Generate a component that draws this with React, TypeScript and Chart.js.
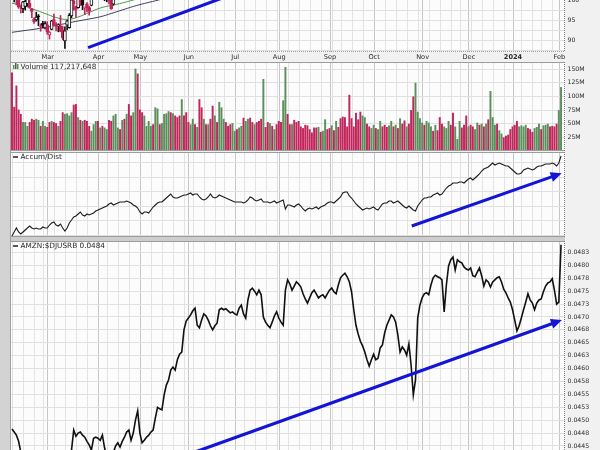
import React, { useEffect, useRef } from "react";
import { Chart, registerables } from "chart.js";

Chart.register(...registerables);

// ---------- trading calendar (Feb 6 2023 .. Feb 2 2024) ----------
const TRADING_MONTHS: [number, number, string, number[]][] = [
  [2023, 2, "", [6, 7, 8, 9, 10, 13, 14, 15, 16, 17, 21, 22, 23, 24, 27, 28]],
  [2023, 3, "Mar", [1, 2, 3, 6, 7, 8, 9, 10, 13, 14, 15, 16, 17, 20, 21, 22, 23, 24, 27, 28, 29, 30, 31]],
  [2023, 4, "Apr", [3, 4, 5, 6, 10, 11, 12, 13, 14, 17, 18, 19, 20, 21, 24, 25, 26, 27, 28]],
  [2023, 5, "May", [1, 2, 3, 4, 5, 8, 9, 10, 11, 12, 15, 16, 17, 18, 19, 22, 23, 24, 25, 26, 30, 31]],
  [2023, 6, "Jun", [1, 2, 5, 6, 7, 8, 9, 12, 13, 14, 15, 16, 20, 21, 22, 23, 26, 27, 28, 29, 30]],
  [2023, 7, "Jul", [3, 5, 6, 7, 10, 11, 12, 13, 14, 17, 18, 19, 20, 21, 24, 25, 26, 27, 28, 31]],
  [2023, 8, "Aug", [1, 2, 3, 4, 7, 8, 9, 10, 11, 14, 15, 16, 17, 18, 21, 22, 23, 24, 25, 28, 29, 30, 31]],
  [2023, 9, "Sep", [1, 5, 6, 7, 8, 11, 12, 13, 14, 15, 18, 19, 20, 21, 22, 25, 26, 27, 28, 29]],
  [2023, 10, "Oct", [2, 3, 4, 5, 6, 9, 10, 11, 12, 13, 16, 17, 18, 19, 20, 23, 24, 25, 26, 27, 30, 31]],
  [2023, 11, "Nov", [1, 2, 3, 6, 7, 8, 9, 10, 13, 14, 15, 16, 17, 20, 21, 22, 24, 27, 28, 29, 30]],
  [2023, 12, "Dec", [1, 4, 5, 6, 7, 8, 11, 12, 13, 14, 15, 18, 19, 20, 21, 22, 26, 27, 28, 29]],
  [2024, 1, "2024", [2, 3, 4, 5, 8, 9, 10, 11, 12, 16, 17, 18, 19, 22, 23, 24, 25, 26, 29, 30, 31]],
  [2024, 2, "Feb", [1, 2]],
];

// ---------- price (visible part only) ----------
const PRICE_OPEN = [102.8, 101.2, 102.0, 101.3, 97.56, 97.85, 98.41, 99.09, 99.21, 97.8, 95.34, 95.1, 96.12, 93.53, 94.28, 93.14, 93.87, 91.41, 92.74, 95.19, 93.87, 93.6, 93.68, 92.67, 89.97, 93.83, 93.22, 96.06, 99.79, 98.41, 98.14, 100.45, 100.43, 98.07, 99.07, 98.11, 98.69, 101.55, 102.16, 102.3, 102.75, 103.91, 100.75, 100.96, 100.8, 100.4, 98.95, 102.07, 103.16, 103.95, 101.58, 103.53, 106.1, 107.66, 104.91, 105.04];
const PRICE_HIGH = [103.9, 102.4, 102.7, 101.8, 98.62, 99.68, 100.92, 101.17, 100.81, 97.94, 95.61, 97.01, 96.43, 94.14, 94.78, 94.69, 94.68, 92.23, 95.0, 96.55, 94.45, 94.17, 96.2, 93.57, 93.38, 94.98, 96.67, 100.63, 100.66, 98.48, 100.85, 102.1, 101.06, 98.3, 99.34, 98.44, 100.42, 103.04, 103.49, 103.29, 104.2, 103.91, 102.38, 102.2, 101.0, 100.51, 102.57, 103.2, 103.73, 104.2, 105.12, 105.25, 108.15, 109.23, 105.45, 106.62];
const PRICE_LOW = [100.6, 99.5, 98.78, 97.93, 96.8, 96.91, 97.52, 98.45, 97.95, 95.65, 94.27, 94.8, 93.67, 92.32, 93.14, 92.92, 91.59, 90.39, 92.66, 93.74, 92.41, 92.18, 92.18, 90.25, 88.12, 92.67, 93.07, 95.61, 97.46, 95.7, 98.0, 98.61, 97.62, 96.4, 97.08, 96.29, 98.56, 101.01, 101.95, 101.43, 102.11, 100.75, 99.8, 99.57, 99.01, 97.71, 98.71, 101.11, 101.59, 101.52, 101.39, 103.21, 105.08, 105.07, 102.45, 104.1];
const PRICE_CLOSE = [102.1, 102.11, 100.05, 98.24, 97.61, 99.54, 99.7, 101.16, 98.15, 97.2, 94.58, 95.79, 95.82, 93.5, 93.76, 94.23, 92.17, 92.13, 94.9, 93.75, 93.55, 93.92, 92.25, 90.73, 92.43, 94.88, 96.2, 100.04, 98.95, 97.71, 100.61, 98.7, 98.71, 98.13, 98.04, 97.24, 100.25, 102.0, 103.29, 102.41, 103.95, 101.1, 102.06, 102.17, 99.92, 97.83, 102.4, 102.51, 102.74, 102.3, 104.3, 103.81, 106.96, 106.21, 102.57, 104.98];

// moving averages read every 5 sessions
const MA_DAYS = [0, 5, 10, 15, 20, 25, 30, 35, 40, 45, 50, 55, 60, 65, 70];
const SMA50 = [92.06, 92.43, 92.8, 93.24, 93.73, 94.3, 94.84, 95.33, 95.87, 96.68, 97.54, 98.4, 99.14, 99.8, 100.5];
const SMA20 = [99.19, 98.65, 97.67, 96.68, 95.7, 95.21, 95.82, 96.93, 98.03, 98.65, 99.26, 100.0, 100.7, 101.4, 102.1];

// ---------- volume (millions) ----------
const VOLUME = [
  144, 81, 120, 76, 68, 53, 53, 46, 53, 59,
  57, 59, 57, 46, 55, 46, 44, 53, 55, 53,
  51, 46, 55, 71, 68, 69, 65, 71, 85, 86,
  62, 57, 55, 57, 55, 46, 37, 49, 55, 55,
  43, 46, 43, 40, 57, 55, 65, 68, 43, 40,
  57, 59, 68, 86, 65, 71, 151, 142, 76, 71,
  65, 46, 55, 46, 49, 80, 78, 49, 51, 68,
  69, 73, 71, 69, 65, 62, 65, 95, 65, 71,
  53, 49, 59, 49, 44, 95, 80, 59, 49, 49,
  59, 83, 65, 53, 90, 80, 59, 53, 46, 49,
  51, 37, 40, 43, 46, 61, 55, 59, 61, 53,
  49, 53, 55, 59, 132, 44, 53, 51, 46, 40,
  49, 55, 53, 93, 154, 68, 49, 49, 57, 53, 55,
  45, 42, 48, 47, 40, 34, 43, 43, 44,
  35, 37, 58, 40, 42, 47, 38, 55, 44, 60,
  63, 62, 45, 103, 60, 45, 70, 58, 72, 65,
  62, 50, 45, 42, 48, 42, 40, 55, 45, 48,
  44, 47, 55, 45, 48, 42, 60, 50, 56, 45,
  50, 75, 100, 125, 72, 60, 52, 48, 55, 52,
  45, 37, 48, 38, 62, 50, 45, 42, 55, 48,
  70, 45, 22, 55, 43, 48, 65, 45, 48, 45,
  40, 52, 48, 50, 45, 50, 58, 110, 62, 48,
  50, 38, 32, 25, 28, 30, 40, 45, 48, 55,
  45, 47, 45, 48, 42, 40, 35, 42, 44, 50,
  40, 47, 48, 50, 45, 46, 45, 50, 75, 117.217648,
];
// g = close up, r = close down
const VOLUME_DIR = [
  "rrrrrgggrr", "rggrggrrgr", "rgrrggggrr", "grgrrrgggr", "grggrrgggr", "grgrrggr",
  "rr", "ggggrggrgg", "ggrgrrrgrr", "rggrgrrgrg", "rrgrgggrrr", "ggrggrggrr", "grrrgrrgrg", "rrrggrrgrrr",
  "rrrrrrrrg", "rggrrgrgrr", "rrrrrrrrrg", "grrggrggrr", "rggrgrgrrg", "rrrggggrgg",
  "grgrrrgggr", "rgggrrrgrr", "ggrgrgrggg", "rggrrrrrrr", "ggggrrrggg", "rgggrrrrgg",
].join("");

// ---------- Accumulation / Distribution (relative units) ----------
const ACCUM_DIST = [
  4, 8, 12, 8, 6, 8, 10, 12, 14, 12,
  11, 12, 11, 11, 13, 12, 12, 15, 17, 18,
  15, 14, 16, 12, 9, 12, 17, 20, 23, 24,
  26, 28, 25, 24, 26, 25, 26, 27, 29, 30,
  31, 32, 33, 34, 36, 37, 35, 36, 37, 38,
  38, 38, 39, 38, 37, 35, 34, 32, 28, 26,
  28, 28, 27, 30, 33, 35, 37, 38, 38, 40,
  42, 44, 46, 43, 42, 42, 43, 44, 45, 45,
  46, 47, 45, 46, 46, 43, 41, 40, 41, 43,
  46, 43, 42, 43, 45, 44, 43, 42, 41, 40,
  39, 38, 38, 38, 38, 37, 38, 40, 43, 42,
  40, 39, 40, 41, 38, 38, 38, 37, 38, 39,
  37, 38, 39, 40, 31, 35, 35, 34, 33, 35,
  36, 34, 31, 29, 31, 32, 31, 32, 33, 31,
  33, 34, 35, 37, 38, 38, 37, 39, 41, 43,
  47, 48, 48, 44, 42, 39, 36, 34, 32, 30,
  31, 32, 31, 32, 33, 31, 30, 33, 36, 37,
  37, 39, 39, 37, 38, 39, 37, 35, 33, 32,
  34, 32, 30, 29, 34, 37, 40, 42, 42, 43,
  43, 45, 46, 47, 45, 46, 49, 52, 54, 55,
  57, 57, 57, 58, 58, 57, 59, 61, 62, 60,
  62, 64, 66, 69, 71, 72, 73, 75, 77, 75,
  76, 77, 76, 75, 74, 74, 72, 70, 68, 66,
  66, 67, 70, 71, 72, 71, 70, 71, 73, 74,
  74, 75, 76, 76, 76, 77, 76, 74, 77, 84,
];

// ---------- AMZN:$DJUSRB ratio ----------
const RATIO = [
  0.04483, 0.04477, 0.04471, 0.04459, 0.04438, 0.04426,
  0.04419, 0.04411, 0.04403, 0.04407, 0.04399, 0.04392, 0.04395, 0.04403, 0.04411, 0.04407, 0.04399,
  0.04388, 0.04384, 0.04392, 0.04399, 0.04407, 0.04403, 0.04411, 0.04419, 0.04426, 0.04432,
  0.04442, 0.04481, 0.04469, 0.04475, 0.04477, 0.04471, 0.04467, 0.04459, 0.04452, 0.04442,
  0.04465, 0.04467, 0.04465, 0.04461, 0.04471, 0.04446, 0.04432, 0.04426, 0.0443, 0.04438, 0.0445, 0.04456, 0.04448,
  0.04459, 0.04467, 0.04477, 0.04481, 0.04461, 0.04475, 0.045, 0.04518, 0.04475, 0.04456,
  0.04461, 0.04467, 0.04471, 0.04477, 0.04481, 0.04504, 0.04525, 0.04522, 0.0452, 0.04549,
  0.04568, 0.04578, 0.04597, 0.04603, 0.04597, 0.04617, 0.04628, 0.04632,
  0.04675, 0.04692, 0.04698, 0.04704, 0.04712, 0.04717, 0.04684, 0.04679, 0.04694, 0.04706,
  0.04702, 0.04694, 0.04683, 0.04675, 0.04683, 0.04688, 0.04714, 0.04717, 0.04714, 0.04716,
  0.04712, 0.04708, 0.0471, 0.04706, 0.04704, 0.04717, 0.04723, 0.04706, 0.04698,
  0.04733, 0.04752, 0.04756, 0.0475, 0.04743, 0.04752, 0.04743, 0.047, 0.0469, 0.04684,
  0.04679, 0.0469, 0.04702, 0.0471, 0.04698, 0.0469, 0.04684, 0.04752, 0.04772, 0.04764,
  0.04752, 0.0476, 0.04768, 0.04764,
  0.04758, 0.04745, 0.04735, 0.04727, 0.04737, 0.04747, 0.04752, 0.04745, 0.04737, 0.04741,
  0.04743, 0.04737, 0.04745, 0.04752, 0.04756, 0.04749, 0.04745, 0.04762, 0.04776, 0.04781,
  0.04785, 0.04778, 0.04768, 0.04749, 0.04714, 0.04684, 0.04667, 0.04653, 0.04644, 0.04632,
  0.04617, 0.04605, 0.04617, 0.04628, 0.04617, 0.0462, 0.0464, 0.04646, 0.04669, 0.04684,
  0.04694, 0.04704, 0.047, 0.0469, 0.04665, 0.04632, 0.04642, 0.04636, 0.04626, 0.04648,
  0.04607, 0.04549, 0.04578, 0.04698, 0.04723, 0.04737, 0.04745, 0.04747, 0.04743, 0.04762,
  0.04776, 0.04781, 0.04778, 0.04776, 0.04772, 0.0471, 0.04762, 0.04799, 0.04811, 0.04816,
  0.04791, 0.04811, 0.04807, 0.04805, 0.04797, 0.04793, 0.04791, 0.04795, 0.0478, 0.04778,
  0.04787, 0.04795, 0.0478, 0.0476, 0.04772, 0.04768, 0.04758, 0.04768, 0.04772, 0.04776,
  0.04778, 0.04768, 0.04754, 0.04747, 0.04737, 0.04729, 0.04714, 0.04694, 0.04673, 0.04683,
  0.04698, 0.04714, 0.04729, 0.04745, 0.04733, 0.04727, 0.04714, 0.04727, 0.04733, 0.04735,
  0.04749, 0.0476, 0.04766, 0.04768, 0.04774, 0.04752, 0.04725, 0.04729, 0.0484,
];

// ---------- axis ticks ----------
const PRICE_TICKS = [87.5, 90, 92.5, 95, 97.5, 100, 102.5];
const VOLUME_TICKS = [25, 50, 75, 100, 125, 150];
const AD_GRID = [5, 19.5, 34, 48.5, 63, 77.5];
const RATIO_TICKS = [0.04425, 0.0445, 0.04475, 0.045, 0.04525, 0.0455, 0.04575, 0.046, 0.04625, 0.0465, 0.04675, 0.047, 0.04725, 0.0475, 0.04775, 0.048, 0.04825];

// ---------- trend lines (session index, value) ----------
const PRICE_TREND = { x1: 34.5, y1: 88.28, x2: 110, y2: 103.41, arrow: false };
const AD_TREND = { x1: 181.3, y1: 14, x2: 249.3, y2: 66.7, arrow: true };
const RATIO_TREND = { x1: 60, y1: 0.04403, x2: 249.4, y2: 0.04694, arrow: true };

// ---------- derived calendar helpers ----------
const DAYS: Date[] = TRADING_MONTHS.flatMap(([y, m, , d]) => d.map((dd) => new Date(y, m - 1, dd)));
const MONTH_STARTS: { i: number; label: string }[] = [];
{
  let idx = 0;
  TRADING_MONTHS.forEach(([, , label, d]) => {
    if (label) MONTH_STARTS.push({ i: idx, label });
    idx += d.length;
  });
}
const WEEK_STARTS: number[] = DAYS.map((d, i) => (i === 0 || d.getDay() <= DAYS[i - 1].getDay() ? i : -1)).filter((i) => i >= 0);

// ---------- styling ----------
const PAGE_BG = "#f1f1f1";
const PLOT_BG = "#fcfcfc";
const GRID_WEEK = "#e3e3e3";
const GRID_MONTH = "#c6c6c6";
const GRID_H = "#e0e0e0";
const BORDER = "#9c9c9c";
const TEXT = "#2a2a2a";
const RED = "#c2255b";
const GREEN = "#5b8f5b";
const BLUE = "#1414d6";
const FONT = "DejaVu Sans";
const X_MIN = -0.45;
const X_MAX = 250.8;
const PLOT_LEFT = 11;
const AXIS_W = 35;

type Trend = { x1: number; y1: number; x2: number; y2: number; arrow: boolean };
type Panel = {
  key: string;
  top: number;
  bottom: number;
  padTop: number;
  padBottom: number;
  yMin: number;
  yMax: number;
  ticks: number[];
  showTicks: boolean;
  fmt: (v: number) => string;
  datasets: any[];
  legend?: { text: string; icon: "bars" | "dash" };
  trend?: Trend;
  monthLabels?: boolean;
  dottedBottom?: boolean;
};

const idx = (n: number) => Array.from({ length: n }, (_, i) => i);

const candleColor = PRICE_CLOSE.map((c, i) => (i === 0 ? (c < PRICE_OPEN[0] ? RED : "#111") : c < PRICE_CLOSE[i - 1] ? RED : "#111"));

const PANELS: Panel[] = [
  {
    key: "price",
    top: -20,
    bottom: 52,
    padTop: 8,
    padBottom: 14,
    yMin: 87.22,
    yMax: 104.91,
    ticks: PRICE_TICKS,
    showTicks: true,
    fmt: (v) => (Math.abs(v % 5) < 1e-9 ? String(v) : ""),
    trend: PRICE_TREND,
    monthLabels: true,
    dottedBottom: true,
    datasets: [
      {
        type: "line",
        data: MA_DAYS.map((d, k) => ({ x: d, y: SMA50[k] })),
        borderColor: "#3b3f5c",
        borderWidth: 1,
        pointRadius: 0,
        tension: 0.4,
        order: 4,
      },
      {
        type: "line",
        data: MA_DAYS.map((d, k) => ({ x: d, y: SMA20[k] })),
        borderColor: "#4c9a4c",
        borderWidth: 1,
        pointRadius: 0,
        tension: 0.4,
        order: 3,
      },
      {
        type: "bar",
        data: PRICE_OPEN.map((_, i) => ({ x: i, y: [PRICE_LOW[i], PRICE_HIGH[i]] })),
        backgroundColor: candleColor,
        barThickness: 1,
        grouped: false,
        order: 2,
      },
      {
        type: "bar",
        data: PRICE_OPEN.map((o, i) => ({ x: i, y: [o, PRICE_CLOSE[i]] })),
        backgroundColor: PRICE_OPEN.map((o, i) => (PRICE_CLOSE[i] < o ? candleColor[i] : "#ffffff")),
        borderColor: candleColor,
        borderWidth: 1,
        borderSkipped: false,
        barThickness: 3,
        grouped: false,
        order: 1,
      },
    ],
  },
  {
    key: "volume",
    top: 62,
    bottom: 151,
    padTop: 8,
    padBottom: 8,
    yMin: 0,
    yMax: 163.2,
    ticks: VOLUME_TICKS,
    showTicks: true,
    fmt: (v) => `${v}M`,
    legend: { text: `Volume ${Math.round(VOLUME[VOLUME.length - 1] * 1e6).toLocaleString("en-US")}`, icon: "bars" },
    datasets: [
      {
        type: "bar",
        data: VOLUME.map((v, i) => ({ x: i, y: v })),
        backgroundColor: VOLUME.map((_, i) => (VOLUME_DIR[i] === "g" ? GREEN : RED)),
        barPercentage: 0.88,
        categoryPercentage: 1,
        grouped: false,
      },
    ],
  },
  {
    key: "ad",
    top: 152,
    bottom: 237,
    padTop: 8,
    padBottom: 8,
    yMin: 3,
    yMax: 88,
    ticks: AD_GRID,
    showTicks: false,
    fmt: () => "",
    legend: { text: "Accum/Dist", icon: "dash" },
    trend: AD_TREND,
    datasets: [
      {
        type: "line",
        data: ACCUM_DIST.map((v, i) => ({ x: i, y: v })),
        borderColor: "#1c1c1c",
        borderWidth: 1.1,
        pointRadius: 0,
        tension: 0,
      },
    ],
  },
  {
    key: "ratio",
    top: 241,
    bottom: 500,
    padTop: 8,
    padBottom: 8,
    yMin: 0.043453,
    yMax: 0.048473,
    ticks: RATIO_TICKS,
    showTicks: true,
    fmt: (v) => (Math.round(v * 1e4 + 1e-6) / 1e4).toFixed(4),
    legend: { text: `AMZN:$DJUSRB ${RATIO[RATIO.length - 1].toFixed(4)}`, icon: "dash" },
    trend: RATIO_TREND,
    datasets: [
      {
        type: "line",
        data: RATIO.map((v, i) => ({ x: i, y: v })),
        borderColor: "#111111",
        borderWidth: 1.6,
        pointRadius: 0,
        tension: 0,
      },
    ],
  },
];

function makeDecor(p: Panel) {
  return {
    id: "decor",
    beforeDraw(chart: any) {
      const { ctx, chartArea: a } = chart;
      const xs = chart.scales.x;
      ctx.save();
      ctx.fillStyle = PLOT_BG;
      ctx.fillRect(a.left, a.top, a.right - a.left, a.bottom - a.top);
      ctx.lineWidth = 1;
      const vline = (i: number, color: string) => {
        const px = Math.round(xs.getPixelForValue(i)) + 0.5;
        ctx.strokeStyle = color;
        ctx.beginPath();
        ctx.moveTo(px, a.top);
        ctx.lineTo(px, a.bottom);
        ctx.stroke();
      };
      WEEK_STARTS.forEach((i) => vline(i, GRID_WEEK));
      MONTH_STARTS.forEach((m) => vline(m.i, GRID_MONTH));
      ctx.restore();
    },
    afterDraw(chart: any) {
      const { ctx, chartArea: a } = chart;
      const xs = chart.scales.x;
      const ys = chart.scales.y;
      // trend line
      if (p.trend) {
        const t = p.trend;
        const x1 = xs.getPixelForValue(t.x1);
        const y1 = ys.getPixelForValue(t.y1);
        const x2 = xs.getPixelForValue(t.x2);
        const y2 = ys.getPixelForValue(t.y2);
        ctx.save();
        ctx.beginPath();
        ctx.rect(a.left, a.top, a.right - a.left, a.bottom - a.top);
        ctx.clip();
        const ang = Math.atan2(y2 - y1, x2 - x1);
        const headL = t.arrow ? 11 : 0;
        const hw = 5;
        const bx = x2 - headL * Math.cos(ang);
        const by = y2 - headL * Math.sin(ang);
        ctx.strokeStyle = BLUE;
        ctx.lineWidth = 3;
        ctx.lineCap = "butt";
        ctx.beginPath();
        ctx.moveTo(x1, y1);
        ctx.lineTo(bx + Math.cos(ang), by + Math.sin(ang));
        ctx.stroke();
        if (t.arrow) {
          ctx.fillStyle = BLUE;
          ctx.beginPath();
          ctx.moveTo(x2, y2);
          ctx.lineTo(bx - hw * Math.sin(ang), by + hw * Math.cos(ang));
          ctx.lineTo(bx + hw * Math.sin(ang), by - hw * Math.cos(ang));
          ctx.closePath();
          ctx.fill();
        }
        ctx.restore();
      }
      // borders
      ctx.save();
      ctx.lineWidth = 1;
      ctx.strokeStyle = BORDER;
      ctx.beginPath();
      ctx.moveTo(a.left, a.top + 0.5);
      ctx.lineTo(a.right, a.top + 0.5);
      ctx.stroke();
      if (p.dottedBottom) ctx.setLineDash([1, 1]);
      ctx.beginPath();
      ctx.moveTo(a.left, a.bottom - 0.5);
      ctx.lineTo(a.right, a.bottom - 0.5);
      ctx.stroke();
      ctx.setLineDash([1, 1]);
      ctx.strokeStyle = "#7a7a7a";
      ctx.beginPath();
      ctx.moveTo(a.right - 0.5, a.top);
      ctx.lineTo(a.right - 0.5, a.bottom);
      ctx.stroke();
      ctx.setLineDash([]);
      ctx.restore();
      // legend
      if (p.legend) {
        ctx.save();
        const ly = a.top + 5;
        if (p.legend.icon === "bars") {
          ctx.fillStyle = GREEN;
          ctx.fillRect(a.left + 2, ly - 2, 1.5, 4);
          ctx.fillStyle = "#555";
          ctx.fillRect(a.left + 4, ly - 4, 1.5, 6);
          ctx.fillStyle = GREEN;
          ctx.fillRect(a.left + 6, ly - 3, 1.5, 5);
        } else {
          ctx.fillStyle = "#222";
          ctx.fillRect(a.left + 2, ly - 0.75, 5, 1.5);
        }
        ctx.fillStyle = TEXT;
        ctx.font = `7.3px "${FONT}"`;
        ctx.textBaseline = "middle";
        ctx.textAlign = "left";
        ctx.fillText(p.legend.text, a.left + 9.5, ly + 0.5);
        ctx.restore();
      }
      // month labels
      if (p.monthLabels) {
        ctx.save();
        ctx.fillStyle = TEXT;
        ctx.textBaseline = "middle";
        ctx.textAlign = "center";
        MONTH_STARTS.forEach((m) => {
          ctx.font = /^\d+$/.test(m.label) ? `bold 6.6px "${FONT}"` : `6.6px "${FONT}"`;
          ctx.fillText(m.label, xs.getPixelForValue(m.i) + 0.5, a.bottom + 5.5);
        });
        ctx.restore();
      }
    },
  };
}

function buildChart(canvas: HTMLCanvasElement, p: Panel) {
  return new Chart(canvas, {
    type: "bar",
    data: { datasets: p.datasets },
    options: {
      responsive: false,
      animation: false,
      events: [],
      layout: { padding: { left: PLOT_LEFT, right: 0, top: p.padTop, bottom: p.padBottom } },
      plugins: { legend: { display: false }, tooltip: { enabled: false } },
      scales: {
        x: { type: "linear", display: false, min: X_MIN, max: X_MAX, offset: false },
        y: {
          type: "linear",
          position: "right",
          min: p.yMin,
          max: p.yMax,
          afterFit: (s: any) => {
            s.width = AXIS_W;
          },
          afterBuildTicks: (s: any) => {
            s.ticks = p.ticks.map((v) => ({ value: v }));
          },
          grid: { color: GRID_H, drawTicks: false, lineWidth: 1 },
          border: { display: false },
          ticks: {
            display: p.showTicks,
            autoSkip: false,
            padding: 2.5,
            color: TEXT,
            font: { family: FONT, size: 6.2 },
            callback: (v: any) => p.fmt(Number(v)),
          },
        },
      },
    } as any,
    plugins: [makeDecor(p) as any],
  });
}

export default function App() {
  const canvases = useRef<(HTMLCanvasElement | null)[]>([]);
  useEffect(() => {
    const charts = PANELS.map((p, k) => buildChart(canvases.current[k]!, p));
    return () => charts.forEach((c) => c.destroy());
  }, []);
  return (
    <div
      style={{
        position: "fixed",
        left: 0,
        top: 0,
        width: 600,
        height: 450,
        overflow: "hidden",
        background: PAGE_BG,
      }}
    >
      <div style={{ position: "absolute", left: 0, top: 0, width: 10, height: 450, background: "#d3d3d3", borderRight: "1px solid #a2a2a2" }} />
      <div style={{ position: "absolute", left: 11, top: 237, width: 554, height: 4, background: "#cdcdcd" }} />
      {PANELS.map((p, k) => {
        const h = p.bottom - p.top + p.padTop + p.padBottom;
        return (
          <canvas
            key={p.key}
            ref={(el) => {
              canvases.current[k] = el;
            }}
            width={600}
            height={h}
            style={{ position: "absolute", left: 0, top: p.top - p.padTop, width: 600, height: h }}
          />
        );
      })}
    </div>
  );
}
